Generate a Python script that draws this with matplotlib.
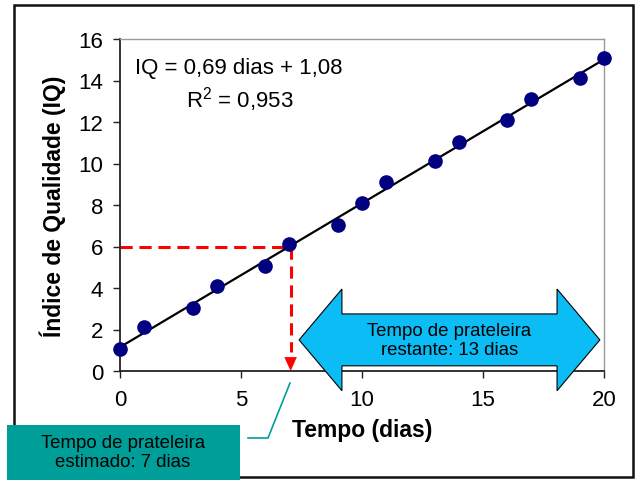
import numpy as np
import matplotlib
matplotlib.use("Agg")
import matplotlib.pyplot as plt
from matplotlib.patches import Polygon, Rectangle
from matplotlib.lines import Line2D

plt.rcParams['font.family'] = ['Liberation Sans', 'DejaVu Sans']
plt.rcParams['mathtext.fontset'] = 'custom'
plt.rcParams['mathtext.rm'] = 'Liberation Sans'
plt.rcParams['mathtext.it'] = 'Liberation Sans'

# Data
dias = [0, 1, 3, 4, 6, 7, 9, 10, 11, 13, 14, 16, 17, 19, 20]
iq = [1.05, 2.1, 3.05, 4.1, 5.05, 6.1, 7.05, 8.1, 9.1, 10.1, 11.05, 12.1, 13.1, 14.1, 15.1]
x_ticks = [0, 5, 10, 15, 20]
y_ticks = [0, 2, 4, 6, 8, 10, 12, 14, 16]
eq_text = "IQ = 0,69 dias + 1,08"
r2_text = "R$^2$ = 0,953"
iq_limite = 6
t_estimado = 7.05
txt_estimado = "Tempo de prateleira\nestimado: 7 dias"
txt_restante = "Tempo de prateleira\nrestante: 13 dias"

W, H = 635, 481
fig = plt.figure(figsize=(W / 100, H / 100), dpi=100)
ax = fig.add_axes([120 / W, 1 - 372 / H, 484 / W, 332 / H])

# trend line
coef = np.polyfit(dias, iq, 1)
xl = np.array([0, 20])
ax.plot(xl, np.polyval(coef, xl), color='black', lw=1.6, zorder=3)
ax.plot(dias, iq, 'o', color='#000080', ms=9.5, zorder=4, clip_on=False)

# red dashed guides
ax.plot([0, t_estimado], [iq_limite, iq_limite], color='red', lw=2.2,
        dashes=(4, 2.2), zorder=2)
ax.plot([t_estimado, t_estimado], [iq_limite, 0.9], color='red', lw=2.2,
        dashes=(4, 2.2), zorder=2)
ax.annotate('', xy=(t_estimado, 0), xytext=(t_estimado, 0.95),
            arrowprops=dict(arrowstyle='-|>,head_length=1.0,head_width=0.45',
                            color='red', lw=0, shrinkA=0, shrinkB=0),
            annotation_clip=False, zorder=5)

ax.set_xlim(0, 20)
ax.set_ylim(0, 16)
ax.set_xticks(x_ticks)
ax.set_yticks(y_ticks)
ax.tick_params(direction='out', length=5, width=1, labelsize=16, color='#222222')
ax.tick_params(axis='x', pad=8)
ax.tick_params(axis='y', pad=7)
for s in ['left', 'bottom']:
    ax.spines[s].set_color('#222222')
    ax.spines[s].set_linewidth(1.3)
for s in ['top', 'right']:
    ax.spines[s].set_color('#999999')
    ax.spines[s].set_linewidth(1)

ax.set_xlabel('Tempo (dias)', fontsize=16.5, fontweight='bold', labelpad=6)
ax.set_ylabel('Índice de Qualidade (IQ)', fontsize=16.5, fontweight='bold', labelpad=9)

ax.text(4.9, 14.65, eq_text, fontsize=16, ha='center', va='center')
ax.text(4.95, 13.15, r2_text, fontsize=16, ha='center', va='center')

# blue double arrow (data coords)
xl0, xl1, xr1, xr0 = 7.4, 9.17, 18.06, 19.83
yc, bh, hh = 1.5, 1.25, 2.45
arrow_pts = [(xl0, yc), (xl1, yc + hh), (xl1, yc + bh), (xr1, yc + bh), (xr1, yc + hh),
             (xr0, yc), (xr1, yc - hh), (xr1, yc - bh), (xl1, yc - bh), (xl1, yc - hh)]
ax.add_patch(Polygon(arrow_pts, closed=True, facecolor='#0CBCF4', edgecolor='black',
                     lw=0.8, clip_on=False, zorder=6))
ax.text((xl1 + xr1) / 2, yc, txt_restante, fontsize=13.4, ha='center', va='center',
        zorder=7, linespacing=1.17)

# outer border
fig.patches.append(Rectangle((14 / W, 3 / H), 619 / W, 472 / H, transform=fig.transFigure,
                             fill=False, edgecolor='#111111', lw=1.8, zorder=0))

# teal callout
fig.patches.append(Rectangle((7 / W, 0), 233 / W, 55 / H, transform=fig.transFigure,
                             facecolor='#009E99', edgecolor='none', zorder=10))
fig.text(123 / W, 1 - 453 / H, txt_estimado, fontsize=13.4, ha='center', va='center',
         zorder=11, linespacing=1.17)
fig.lines.append(Line2D([248 / W, 268 / W, 290 / W], [1 - 439 / H, 1 - 439 / H, 1 - 384 / H],
                        transform=fig.transFigure, color='#009E99', lw=1.2))

fig.savefig('out.png', dpi=100)
